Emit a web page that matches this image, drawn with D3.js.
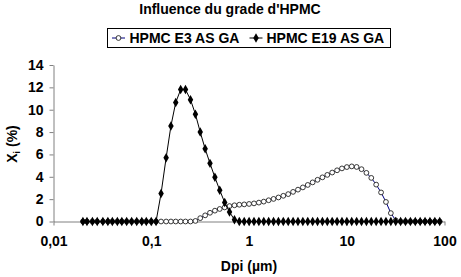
<!DOCTYPE html>
<html>
<head>
<meta charset="utf-8">
<script src="https://cdn.jsdelivr.net/npm/d3@7"></script>
<style>
  body { margin: 0; background: #fff; }
  text { font-family: "Liberation Sans", Arial, sans-serif; font-weight: bold; font-size: 14px; fill: #000; }
</style>
</head>
<body>
<div id="chart"></div>
<script>
// particle size classes (µm)
const sizes = [0.020, 0.022, 0.025, 0.028, 0.032, 0.036, 0.040, 0.045, 0.050, 0.056,
  0.063, 0.071, 0.080, 0.089, 0.100, 0.112, 0.126, 0.142, 0.159, 0.178,
  0.200, 0.224, 0.252, 0.283, 0.317, 0.356, 0.399, 0.448, 0.502, 0.564,
  0.632, 0.710, 0.796, 0.893, 1.002, 1.125, 1.262, 1.416, 1.589, 1.783,
  2.000, 2.244, 2.518, 2.825, 3.170, 3.557, 3.991, 4.477, 5.024, 5.637,
  6.325, 7.096, 7.962, 8.934, 10.024, 11.247, 12.619, 14.159, 15.887, 17.825,
  20.000, 22.440, 25.179, 28.251, 31.698, 35.566, 39.905, 44.774, 50.238, 56.368,
  63.246, 70.963, 79.621, 89.337];

const e3 = [0, 0, 0, 0, 0, 0, 0, 0, 0, 0,
  0, 0, 0, 0, 0, 0, 0, 0, 0, 0,
  0, 0, 0, 0.05, 0.3, 0.55, 0.78, 0.97, 1.12, 1.26,
  1.38, 1.45, 1.5, 1.53, 1.57, 1.62, 1.69, 1.78, 1.9, 2.02,
  2.15, 2.3, 2.45, 2.65, 2.85, 3.05, 3.27, 3.5, 3.73, 3.95,
  4.17, 4.38, 4.58, 4.75, 4.87, 4.93, 4.88, 4.68, 4.35, 3.9,
  3.3, 2.6, 1.75, 0.75, 0.1, 0, 0, 0, 0, 0,
  0, 0, 0, 0];

const e19 = [0, 0, 0, 0, 0, 0, 0, 0, 0, 0,
  0, 0, 0, 0, 0, 0, 2.5, 5.7, 8.55, 10.65,
  11.8, 11.8, 10.9, 9.6, 8.0, 6.5, 5.2, 3.95, 2.8, 1.7,
  0.85, 0.15, 0, 0, 0, 0, 0, 0, 0, 0,
  0, 0, 0, 0, 0, 0, 0, 0, 0, 0,
  0, 0, 0, 0, 0, 0, 0, 0, 0, 0,
  0, 0, 0, 0, 0, 0, 0, 0, 0, 0,
  0, 0, 0, 0];

const seriesNames = ["HPMC E3 AS GA", "HPMC E19 AS GA"];
const xTicks = [0.01, 0.1, 1, 10, 100];
const xTickLabels = ["0,01", "0,1", "1", "10", "100"];
const yTicks = [0, 2, 4, 6, 8, 10, 12, 14];

const width = 461, height = 277;

const svg = d3.select("#chart")
  .append("svg")
  .attr("width", width)
  .attr("height", height);

const x = d3.scaleLog().domain([0.01, 100]).range([53.5, 444.5]);
const y = d3.scaleLinear().domain([0, 14]).range([221.5, 65]);

// title
svg.append("text")
  .attr("x", 230).attr("y", 14)
  .attr("text-anchor", "middle")
  .text("Influence du grade d'HPMC");

// axes
const yAxis = svg.append("g")
  .attr("transform", "translate(53.5,0)")
  .call(d3.axisLeft(y).tickValues(yTicks).tickSize(4).tickSizeOuter(0).tickPadding(6));

const xAxis = svg.append("g")
  .attr("transform", "translate(0,221.5)")
  .call(d3.axisBottom(x).tickValues(xTicks).tickSize(4).tickSizeOuter(0).tickPadding(11)
    .tickFormat((d, i) => xTickLabels[i]));

[xAxis, yAxis].forEach(g => {
  g.selectAll("path, line").attr("stroke", "#808080");
  g.selectAll("text").attr("font-size", 14).attr("font-family", null);
});

// axis titles
svg.append("text")
  .attr("x", 249).attr("y", 271)
  .attr("text-anchor", "middle")
  .text("Dpi (µm)");

const yTitle = svg.append("text")
  .attr("transform", "translate(17,144) rotate(-90)")
  .attr("text-anchor", "middle");
yTitle.append("tspan").text("X");
yTitle.append("tspan").attr("font-size", 9).attr("dy", 3).text("i");
yTitle.append("tspan").attr("dy", -3).text(" (%)");

const line = d3.line().x(d => x(d[0])).y(d => y(d[1]));
const data3 = sizes.map((s, i) => [s, e3[i]]);
const data19 = sizes.map((s, i) => [s, e19[i]]);

const diamond = d3.symbol().type(d3.symbolDiamond).size(26);

// series E3 : navy line, white circles
svg.append("path")
  .datum(data3)
  .attr("d", line)
  .attr("fill", "none")
  .attr("stroke", "#000080")
  .attr("stroke-width", 1);

svg.selectAll("circle.e3")
  .data(data3)
  .join("circle")
  .attr("class", "e3")
  .attr("cx", d => x(d[0]))
  .attr("cy", d => y(d[1]))
  .attr("r", 2.4)
  .attr("fill", "#fff")
  .attr("stroke", "#222")
  .attr("stroke-width", 0.9);

// series E19 : black line, black diamonds
svg.append("path")
  .datum(data19)
  .attr("d", line)
  .attr("fill", "none")
  .attr("stroke", "#000")
  .attr("stroke-width", 1);

svg.selectAll("path.e19")
  .data(data19)
  .join("path")
  .attr("class", "e19")
  .attr("transform", d => `translate(${x(d[0])},${y(d[1])})`)
  .attr("d", diamond)
  .attr("fill", "#000");

// legend
const legend = svg.append("g");
legend.append("rect")
  .attr("x", 107.5).attr("y", 28.5)
  .attr("width", 283).attr("height", 19)
  .attr("fill", "#fff")
  .attr("stroke", "#000");

const legendItems = [
  { name: seriesNames[0], x0: 112, tx: 129.5, color: "#000080" },
  { name: seriesNames[1], x0: 249.5, tx: 266.5, color: "#000" }
];

legendItems.forEach((item, i) => {
  legend.append("line")
    .attr("x1", item.x0).attr("x2", item.x0 + 13)
    .attr("y1", 38).attr("y2", 38)
    .attr("stroke", item.color);
  if (i === 0) {
    legend.append("circle")
      .attr("cx", item.x0 + 6.5).attr("cy", 38).attr("r", 2.4)
      .attr("fill", "#fff").attr("stroke", "#222").attr("stroke-width", 0.9);
  } else {
    legend.append("path")
      .attr("transform", `translate(${item.x0 + 6.5},38)`)
      .attr("d", diamond).attr("fill", "#000");
  }
  legend.append("text")
    .attr("x", item.tx).attr("y", 43)
    .text(item.name);
});
</script>
</body>
</html>
